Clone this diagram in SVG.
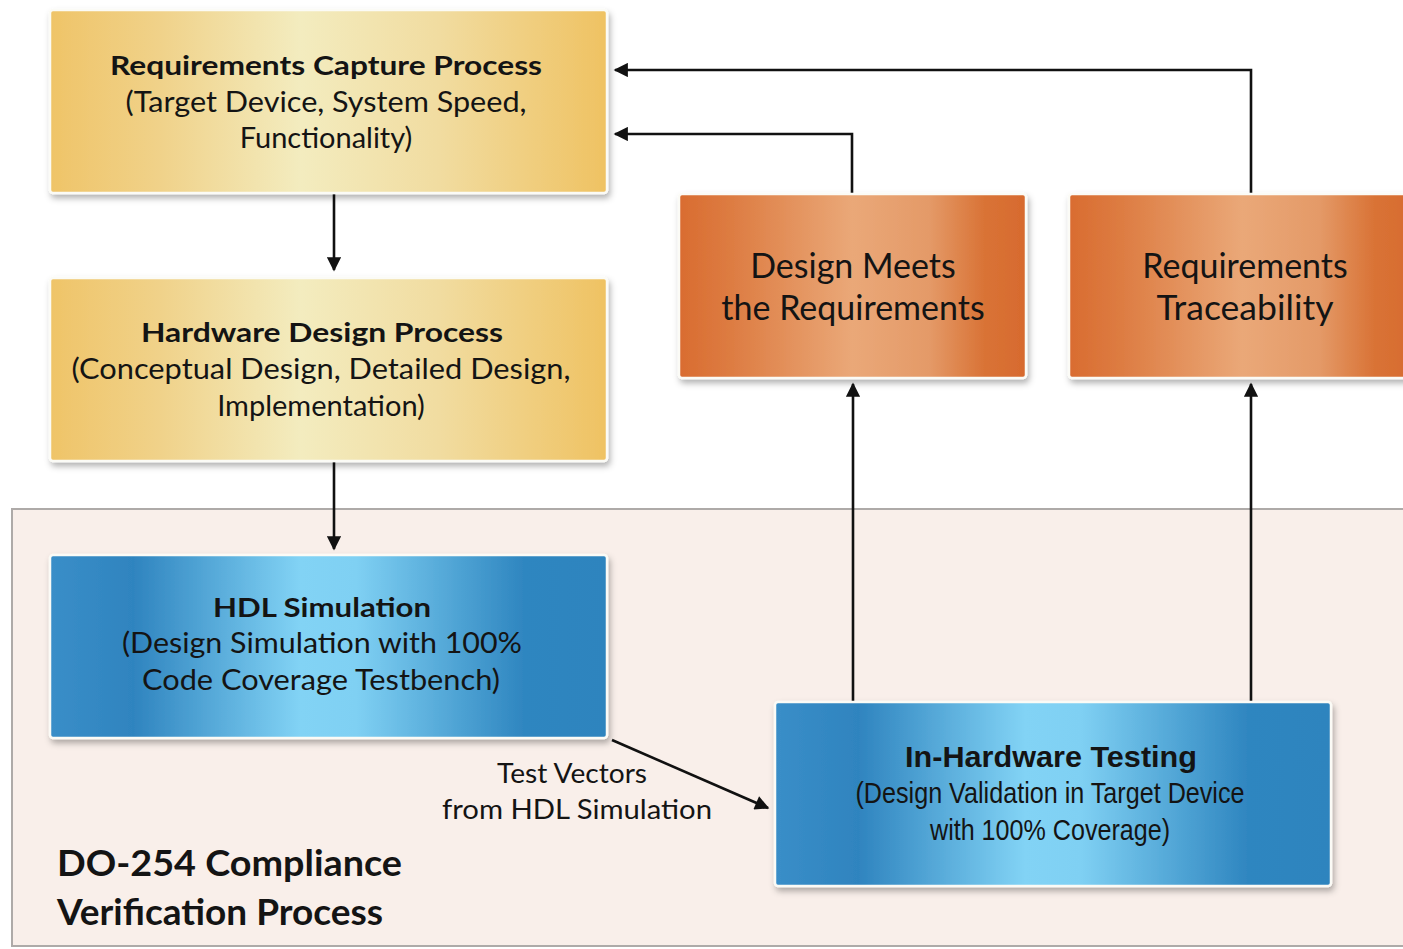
<svg xmlns="http://www.w3.org/2000/svg" width="1403" height="949" viewBox="0 0 1403 949">
  <defs>
    <linearGradient id="gYellow" x1="0" y1="0" x2="1" y2="0">
      <stop offset="0" stop-color="#efc468"/>
      <stop offset="0.2" stop-color="#f0d28a"/>
      <stop offset="0.45" stop-color="#f3ecbf"/>
      <stop offset="0.7" stop-color="#f1dca0"/>
      <stop offset="1" stop-color="#efc262"/>
    </linearGradient>
    <linearGradient id="gOrange" x1="0" y1="0" x2="1" y2="0">
      <stop offset="0" stop-color="#d96c30"/>
      <stop offset="0.15" stop-color="#dd7c42"/>
      <stop offset="0.5" stop-color="#eaa878"/>
      <stop offset="0.72" stop-color="#e49a68"/>
      <stop offset="0.88" stop-color="#d97336"/>
      <stop offset="1" stop-color="#d76a2e"/>
    </linearGradient>
    <linearGradient id="gBlue" x1="0" y1="0" x2="1" y2="0">
      <stop offset="0" stop-color="#3a8ec8"/>
      <stop offset="0.15" stop-color="#2f84bf"/>
      <stop offset="0.45" stop-color="#82d3f5"/>
      <stop offset="0.55" stop-color="#7fd0f3"/>
      <stop offset="0.85" stop-color="#2f86c0"/>
      <stop offset="1" stop-color="#2f84be"/>
    </linearGradient>
    <filter id="shadow" x="-5%" y="-5%" width="112%" height="115%">
      <feDropShadow dx="2" dy="4" stdDeviation="3" flood-color="#000" flood-opacity="0.3"/>
    </filter>
    <marker id="arrow" viewBox="0 0 10 10" refX="9" refY="5" markerWidth="6" markerHeight="5.5" orient="auto" markerUnits="strokeWidth">
      <path d="M0,0 L10,5 L0,10 Z" fill="#111"/>
    </marker>
    <style>
      .box { stroke: #fbfbf6; stroke-width: 2.5; filter: url(#shadow); }
      .t { font-family: "Futura", "Lato", "Liberation Sans", sans-serif; fill: #141414; text-anchor: middle; }
      .b { font-weight: bold; font-size: 27px; }
      .r { font-size: 29px; }
      .big { font-size: 34px; }
      .n { font-family: "Liberation Sans", sans-serif; fill: #141414; text-anchor: middle; }
      .s { text-anchor: start; }
      .conn { fill: none; stroke: #111; stroke-width: 2.6; marker-end: url(#arrow); }
    </style>
  </defs>

  <rect width="1403" height="949" fill="#ffffff"/>

  <!-- verification region -->
  <g id="region">
    <rect x="12" y="509" width="1400" height="437" fill="#f9efea" stroke="#aeaaa8" stroke-width="2"/>
    <text class="t s" x="57" y="876" font-size="36" font-weight="bold" textLength="345" lengthAdjust="spacingAndGlyphs">DO-254 Compliance</text>
    <text class="t s" x="57" y="925" font-size="36" font-weight="bold" textLength="326" lengthAdjust="spacingAndGlyphs">Verification Process</text>
  </g>

  <!-- connectors -->
  <g id="connectors">
    <path class="conn" d="M334,194 V270"/>
    <path class="conn" d="M334,462 V549"/>
    <path class="conn" d="M852,193 V134 H615"/>
    <path class="conn" d="M1251,193 V70 H615"/>
    <path class="conn" d="M853,702 V384"/>
    <path class="conn" d="M1251,702 V384"/>
    <path class="conn" d="M612,740 L768,808"/>
    <text class="t" x="572" y="783" font-size="27" textLength="150" lengthAdjust="spacingAndGlyphs">Test Vectors</text>
    <text class="t" x="577" y="819" font-size="27" textLength="270" lengthAdjust="spacingAndGlyphs">from HDL Simulation</text>
  </g>

  <g id="req-capture">
    <rect class="box" x="50" y="10" width="557" height="183" rx="3" fill="url(#gYellow)"/>
    <text class="t b" x="326" y="75" textLength="432" lengthAdjust="spacingAndGlyphs">Requirements Capture Process</text>
    <text class="t r" x="326" y="112" textLength="401" lengthAdjust="spacingAndGlyphs">(Target Device, System Speed,</text>
    <text class="t r" x="326" y="148">Functionality)</text>
  </g>

  <g id="hw-design">
    <rect class="box" x="50" y="278" width="557" height="183" rx="3" fill="url(#gYellow)"/>
    <text class="t b" x="322" y="342" textLength="362" lengthAdjust="spacingAndGlyphs">Hardware Design Process</text>
    <text class="t r" x="321" y="379" textLength="499" lengthAdjust="spacingAndGlyphs">(Conceptual Design, Detailed Design,</text>
    <text class="t r" x="321" y="416">Implementation)</text>
  </g>

  <g id="hdl-sim">
    <rect class="box" x="50" y="555" width="557" height="183" rx="3" fill="url(#gBlue)"/>
    <text class="t b" x="322" y="617" textLength="218" lengthAdjust="spacingAndGlyphs">HDL Simulation</text>
    <text class="t r" x="322" y="653" textLength="400" lengthAdjust="spacingAndGlyphs">(Design Simulation with 100%</text>
    <text class="t r" x="321" y="690" textLength="358" lengthAdjust="spacingAndGlyphs">Code Coverage Testbench)</text>
  </g>

  <g id="design-meets">
    <rect class="box" x="679" y="194" width="347" height="184" rx="3" fill="url(#gOrange)"/>
    <text class="t big" x="853" y="278">Design Meets</text>
    <text class="t big" x="853" y="320">the Requirements</text>
  </g>

  <g id="traceability">
    <rect class="box" x="1069" y="194" width="347" height="184" rx="3" fill="url(#gOrange)"/>
    <text class="t big" x="1245" y="278">Requirements</text>
    <text class="t big" x="1245" y="320" textLength="177" lengthAdjust="spacingAndGlyphs">Traceability</text>
  </g>

  <g id="in-hw-testing">
    <rect class="box" x="775" y="702" width="556" height="184" rx="3" fill="url(#gBlue)"/>
    <text class="n" x="1051" y="767" font-size="30" font-weight="bold" textLength="292" lengthAdjust="spacingAndGlyphs">In-Hardware Testing</text>
    <text class="n" x="1050" y="803" font-size="29" textLength="389" lengthAdjust="spacingAndGlyphs">(Design Validation in Target Device</text>
    <text class="n" x="1050" y="840" font-size="29" textLength="240" lengthAdjust="spacingAndGlyphs">with 100% Coverage)</text>
  </g>
</svg>
